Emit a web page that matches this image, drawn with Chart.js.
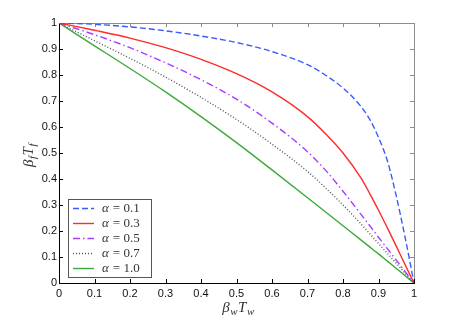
<!DOCTYPE html>
<html lang="en">
<head>
<meta charset="UTF-8">
<title>beta T curves</title>
<script src="https://cdn.jsdelivr.net/npm/chart.js@4.4.0/dist/chart.umd.min.js"></script>
<style>
  html, body { margin: 0; padding: 0; background: #fff; }
</style>
</head>
<body>
<canvas id="myChart" width="457" height="320"></canvas>
<script>
// values
const xValues  = [0, 0.1, 0.2, 0.3, 0.4, 0.5, 0.6, 0.7, 0.75, 0.8, 0.85, 0.875, 0.9, 0.925, 0.95, 0.975, 1];
const alpha01  = [1, 0.995, 0.985, 0.97, 0.95, 0.925, 0.89, 0.84, 0.80, 0.75, 0.68, 0.63, 0.56, 0.47, 0.335, 0.175, 0];
const alpha03  = [1, 0.972, 0.942, 0.905, 0.86, 0.805, 0.735, 0.64, 0.575, 0.50, 0.405, 0.345, 0.28, 0.212, 0.142, 0.07, 0];
const alpha05  = [1, 0.955, 0.905, 0.847, 0.782, 0.707, 0.615, 0.505, 0.435, 0.353, 0.265, 0.221, 0.176, 0.132, 0.088, 0.044, 0];
const alpha07  = [1, 0.932, 0.864, 0.792, 0.714, 0.629, 0.534, 0.429, 0.367, 0.30, 0.228, 0.19, 0.152, 0.114, 0.076, 0.038, 0];
const alpha10  = [1, 0.912, 0.825, 0.735, 0.64, 0.54, 0.435, 0.328, 0.274, 0.22, 0.166, 0.139, 0.112, 0.084, 0.056, 0.028, 0];
const alphaLabels = ['0.1', '0.3', '0.5', '0.7', '1.0'];
const xTickLabels = ['0', '0.1', '0.2', '0.3', '0.4', '0.5', '0.6', '0.7', '0.8', '0.9', '1'];
const yTickLabels = ['0', '0.1', '0.2', '0.3', '0.4', '0.5', '0.6', '0.7', '0.8', '0.9', '1'];

const series = [alpha01, alpha03, alpha05, alpha07, alpha10];
const colors = ['#3a5cff', '#ff2a2a', '#a63cff', '#555555', '#3aaa3a'];
const dashes = [[6, 3], [], [7, 3, 1.5, 3], [1, 2], []];

function toPoints(ys) {
    return xValues.map((x, i) => ({ x: x, y: ys[i] }));
}

// box, inward ticks
const framePlugin = {
    id: 'frame',
    beforeDatasetsDraw(chart) {
        const { ctx, chartArea: a, scales } = chart;
        ctx.save();
        ctx.lineWidth = 1;
        ctx.strokeStyle = '#8c8c8c';
        ctx.beginPath();
        ctx.moveTo(a.left, a.top + 0.5); ctx.lineTo(a.right + 0.5, a.top + 0.5);
        ctx.lineTo(a.right + 0.5, a.bottom);
        ctx.stroke();
        xTickLabels.forEach((t, i) => {
            const px = Math.round(scales.x.getPixelForValue(i / 10)) + 0.5;
            ctx.beginPath(); ctx.moveTo(px, a.top); ctx.lineTo(px, a.top + 4); ctx.stroke();
        });
        yTickLabels.forEach((t, i) => {
            const py = Math.round(scales.y.getPixelForValue(i / 10)) + 0.5;
            ctx.beginPath(); ctx.moveTo(a.right, py); ctx.lineTo(a.right - 4, py); ctx.stroke();
        });
        ctx.strokeStyle = '#000';
        xTickLabels.forEach((t, i) => {
            const px = Math.round(scales.x.getPixelForValue(i / 10)) + 0.5;
            ctx.beginPath(); ctx.moveTo(px, a.bottom); ctx.lineTo(px, a.bottom - 4); ctx.stroke();
        });
        yTickLabels.forEach((t, i) => {
            const py = Math.round(scales.y.getPixelForValue(i / 10)) + 0.5;
            ctx.beginPath(); ctx.moveTo(a.left, py); ctx.lineTo(a.left + 4, py); ctx.stroke();
        });
        ctx.beginPath();
        ctx.moveTo(a.left + 0.5, a.top); ctx.lineTo(a.left + 0.5, a.bottom + 0.5);
        ctx.lineTo(a.right + 1, a.bottom + 0.5);
        ctx.stroke();
        ctx.restore();
    }
};

function drawSubLabel(ctx, parts, cx, cy) {
    // parts: [main, sub, main, sub]
    const big = 'italic 15px "Liberation Serif"';
    const small = 'italic 11px "Liberation Serif"';
    let w = 0;
    parts.forEach((p, i) => { ctx.font = i % 2 ? small : big; w += ctx.measureText(p).width + 0.5; });
    let x = cx - w / 2;
    ctx.textBaseline = 'alphabetic';
    ctx.textAlign = 'left';
    parts.forEach((p, i) => {
        ctx.font = i % 2 ? small : big;
        ctx.fillText(p, x, i % 2 ? cy + 3 : cy);
        x += ctx.measureText(p).width + 0.5;
    });
}

const labelsPlugin = {
    id: 'labels',
    afterDraw(chart) {
        const { ctx, chartArea: a } = chart;
        ctx.save();
        ctx.fillStyle = '#333';
        drawSubLabel(ctx, ['β', 'w', 'T', 'w'], (a.left + a.right) / 2 + 2, 312);
        ctx.translate(33, (a.top + a.bottom) / 2 + 2);
        ctx.rotate(-Math.PI / 2);
        drawSubLabel(ctx, ['β', 'f', 'T', 'f'], 0, 0);
        ctx.restore();

        // legend box, lower left
        const bx = a.left + 9, by = 199.5, bw = 83, bh = 78;
        ctx.save();
        ctx.fillStyle = '#fff';
        ctx.fillRect(bx, by, bw, bh);
        ctx.strokeStyle = '#555';
        ctx.lineWidth = 1;
        ctx.strokeRect(bx + 0.5, by, bw, bh);
        chart.data.datasets.forEach((ds, i) => {
            const y = by + 9 + i * 15;
            ctx.strokeStyle = ds.borderColor;
            ctx.lineWidth = ds.borderWidth;
            ctx.setLineDash(ds.borderDash);
            ctx.beginPath(); ctx.moveTo(bx + 5, y); ctx.lineTo(bx + 26, y); ctx.stroke();
            ctx.setLineDash([]);
            ctx.fillStyle = '#333';
            ctx.textBaseline = 'middle';
            ctx.textAlign = 'left';
            ctx.font = 'italic 13px "Liberation Serif"';
            ctx.fillText('α', bx + 34, y);
            const aw = ctx.measureText('α').width;
            ctx.font = '13px "Liberation Serif"';
            ctx.fillText('= ' + alphaLabels[i], bx + 34 + aw + 4, y);
        });
        ctx.restore();
    }
};

new Chart('myChart', {
    type: 'line',
    data: {
        datasets: series.map((ys, i) => ({
            label: 'α = ' + alphaLabels[i],
            data: toPoints(ys),
            borderColor: colors[i],
            borderWidth: 1.4,
            borderDash: dashes[i],
            pointRadius: 0,
            fill: false,
            cubicInterpolationMode: 'monotone'
        }))
    },
    options: {
        responsive: false,
        animation: false,
        layout: { padding: { left: 0, top: 23, right: 43, bottom: 0 } },
        plugins: { legend: { display: false }, tooltip: { enabled: false } },
        scales: {
            x: {
                type: 'linear', min: 0, max: 1,
                grid: { display: false, drawTicks: false },
                border: { display: false },
                ticks: {
                    stepSize: 0.1, padding: 4, color: '#111', maxRotation: 0,
                    font: { family: '"Liberation Sans"', size: 11 },
                    callback: (v, i) => xTickLabels[i]
                },
                afterFit: s => { s.height = 37; }
            },
            y: {
                min: 0, max: 1,
                grid: { display: false, drawTicks: false },
                border: { display: false },
                ticks: {
                    stepSize: 0.1, padding: 2, color: '#111',
                    font: { family: '"Liberation Sans"', size: 11 },
                    callback: (v, i) => yTickLabels[i]
                },
                afterFit: s => { s.width = 59; }
            }
        }
    },
    plugins: [framePlugin, labelsPlugin]
});
</script>
</body>
</html>
